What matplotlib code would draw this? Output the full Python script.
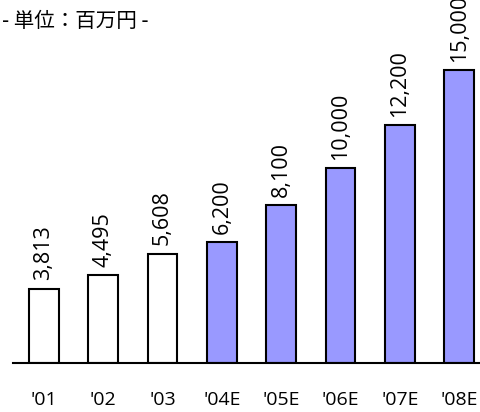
import matplotlib
matplotlib.use("Agg")
import matplotlib.pyplot as plt

categories = ["'01", "'02", "'03", "'04E", "'05E", "'06E", "'07E", "'08E"]
values = [3813, 4495, 5608, 6200, 8100, 10000, 12200, 15000]
labels = ["3,813", "4,495", "5,608", "6,200", "8,100", "10,000", "12,200", "15,000"]
is_forecast = [False, False, False, True, True, True, True, True]
title = "- 単位：百万円 -"

W, H = 481, 412
fig = plt.figure(figsize=(W / 100, H / 100), dpi=100)
ax = fig.add_axes([13 / W, 49 / H, 468 / W, 363 / H])

colors = ["#9999FF" if f else "white" for f in is_forecast]
x = list(range(len(categories)))
ax.bar(x, values, width=0.5, color=colors, edgecolor="black", linewidth=1.5, zorder=2)

for xi, v, lab in zip(x, values, labels):
    ax.annotate(lab, (xi, v), xytext=(0, 6), textcoords="offset points",
                rotation=90, ha="center", va="bottom", fontsize=15.5,
                family="Open Sans", clip_on=False)

ax.set_xlim(-0.523, 7.37)
ax.set_ylim(0, 18615)
for s in ["top", "left", "right"]:
    ax.spines[s].set_visible(False)
ax.spines["bottom"].set_linewidth(1.5)
ax.set_yticks([])
ax.set_xticks(x)
ax.set_xticklabels(categories, family="Open Sans", fontsize=14)
ax.tick_params(axis="x", length=0, pad=20)

fig.text(2 / W, 1 - 21 / H, title, ha="left", va="center", fontsize=14.8,
         family=["Noto Sans CJK JP", "DejaVu Sans"])

fig.savefig("out.png", dpi=100)
